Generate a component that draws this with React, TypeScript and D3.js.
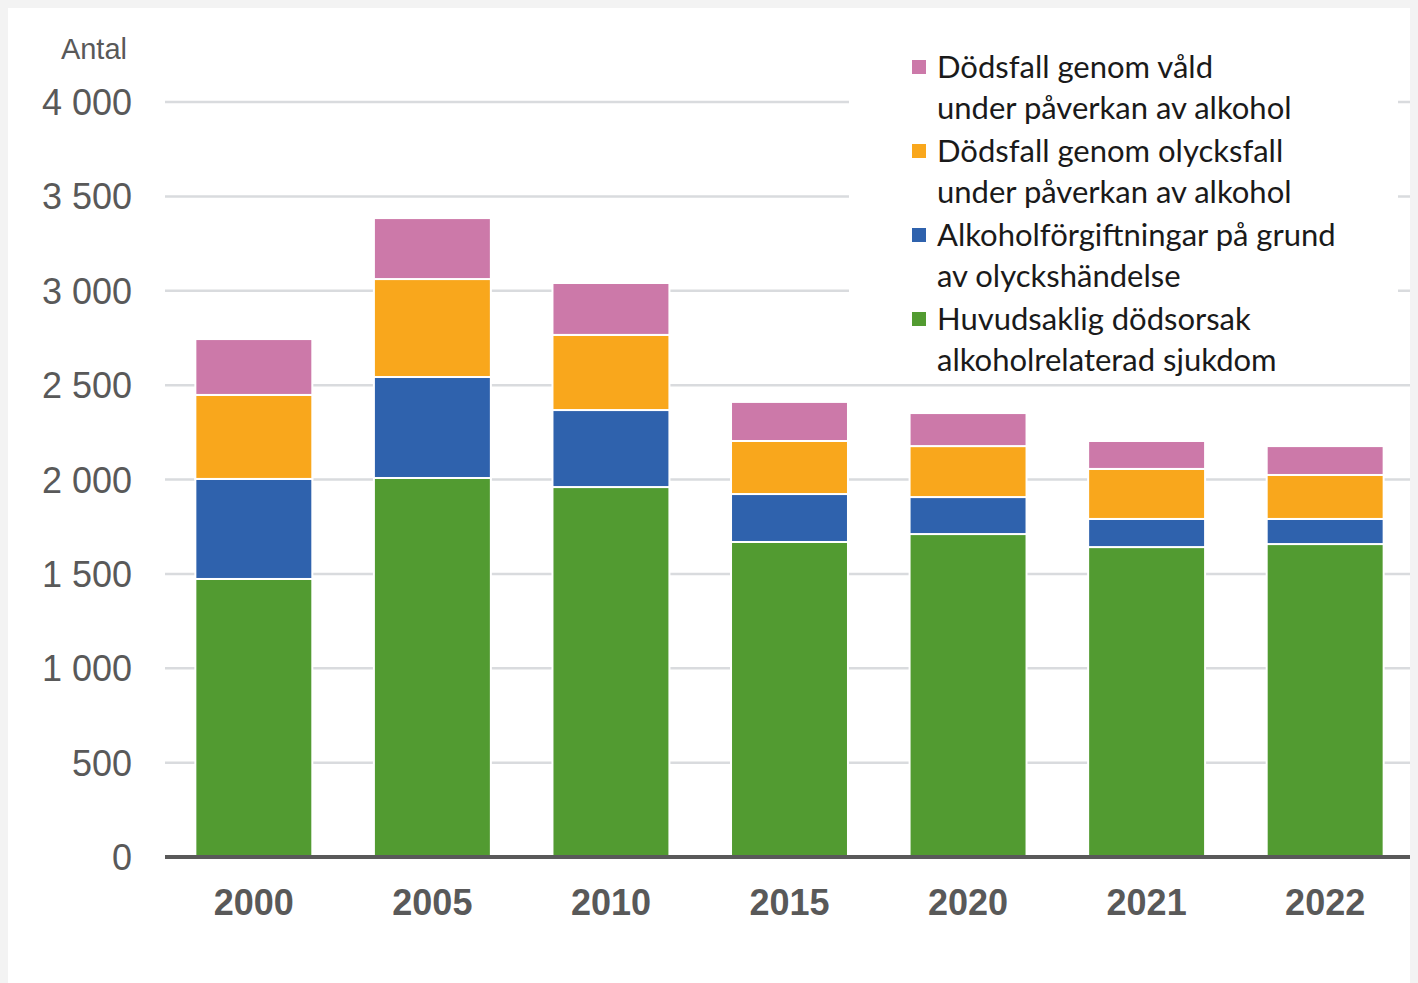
import React, { useEffect } from 'react';
import * as d3 from 'd3';

const years = ['2000', '2005', '2010', '2015', '2020', '2021', '2022'];
const sjukdom = [1473, 2008, 1960, 1669, 1711, 1642, 1658];
const forgiftning = [530, 535, 408, 254, 196, 149, 133];
const olycksfall = [445, 519, 398, 281, 270, 265, 233];
const vald = [296, 323, 275, 207, 175, 148, 153];
const yTicks = [0, 500, 1000, 1500, 2000, 2500, 3000, 3500, 4000];

const seriesKeys = ['sjukdom', 'forgiftning', 'olycksfall', 'vald'];
const seriesColors: Record<string, string> = {
  sjukdom: '#529b31',
  forgiftning: '#2f62ad',
  olycksfall: '#f9a71c',
  vald: '#cc79a9',
};
// legend order is top of stack first
const legendItems = [
  { key: 'vald', lines: ['Dödsfall genom våld', 'under påverkan av alkohol'] },
  { key: 'olycksfall', lines: ['Dödsfall genom olycksfall', 'under påverkan av alkohol'] },
  { key: 'forgiftning', lines: ['Alkoholförgiftningar på grund', 'av olyckshändelse'] },
  { key: 'sjukdom', lines: ['Huvudsaklig dödsorsak', 'alkoholrelaterad sjukdom'] },
];

const rows = years.map((y, i) => ({
  year: y,
  sjukdom: sjukdom[i],
  forgiftning: forgiftning[i],
  olycksfall: olycksfall[i],
  vald: vald[i],
}));

const fmt = (v: number) => d3.format(',')(v).replace(/,/g, ' ');

export default function App() {
  useEffect(() => {
    document.body.style.background = '#f3f3f3';
    document.body.style.overflow = 'hidden';
  }, []);

  const left = 165;
  const right = 1414;
  const top = 102;
  const bottom = 857;

  const x = d3.scaleBand().domain(years).range([left, right]).paddingInner(0.345).paddingOuter(0.17);
  const y = d3.scaleLinear().domain([0, 4000]).range([bottom, top]);
  const stacked = d3.stack<any>().keys(seriesKeys)(rows);

  const axisFont = '"Liberation Sans", Arial, sans-serif';
  const legendFont = 'Lato, "Open Sans", sans-serif';

  return (
    <svg width={1410} height={975} viewBox="8 8 1410 975" style={{ display: 'block' }}>
      <rect x={8} y={8} width={1410} height={975} fill="#ffffff" />

      {/* gridlines */}
      {yTicks.filter((t) => t > 0).map((t) => (
        <line key={t} x1={left} x2={right} y1={y(t)} y2={y(t)} stroke="#d9dbde" strokeWidth={2.5} />
      ))}

      {/* y tick labels */}
      {yTicks.map((t) => (
        <text key={t} x={132} y={y(t) + 13} textAnchor="end" fontFamily={axisFont} fontSize={36} fill="#595959">
          {fmt(t)}
        </text>
      ))}
      <text x={127} y={59} textAnchor="end" fontFamily={axisFont} fontSize={29} fill="#595959">Antal</text>

      {/* bars */}
      {stacked.map((s) => (
        <g key={s.key} fill={seriesColors[s.key]}>
          {s.map((d, i) => (
            <rect
              key={i}
              x={x(years[i])}
              y={y(d[1])}
              width={x.bandwidth()}
              height={y(d[0]) - y(d[1])}
              stroke="#ffffff"
              strokeWidth={2}
            />
          ))}
        </g>
      ))}

      {/* x axis */}
      <line x1={left} x2={right} y1={bottom} y2={bottom} stroke="#595959" strokeWidth={4} />
      {years.map((yr) => (
        <text
          key={yr}
          x={(x(yr) as number) + x.bandwidth() / 2}
          y={915}
          textAnchor="middle"
          fontFamily={axisFont}
          fontWeight="bold"
          fontSize={36}
          fill="#595959"
        >
          {yr}
        </text>
      ))}

      {/* legend */}
      <rect x={849} y={45} width={549} height={333} fill="#ffffff" />
      {legendItems.map((item, i) => {
        const cy = 67 + i * 84;
        return (
          <g key={item.key}>
            <rect x={912} y={cy - 7} width={14} height={14} fill={seriesColors[item.key]} />
            {item.lines.map((ln, j) => (
              <text key={j} x={937} y={cy + 11 + j * 41} fontFamily={legendFont} fontSize={31} fill="#1a1a1a">
                {ln}
              </text>
            ))}
          </g>
        );
      })}
    </svg>
  );
}
